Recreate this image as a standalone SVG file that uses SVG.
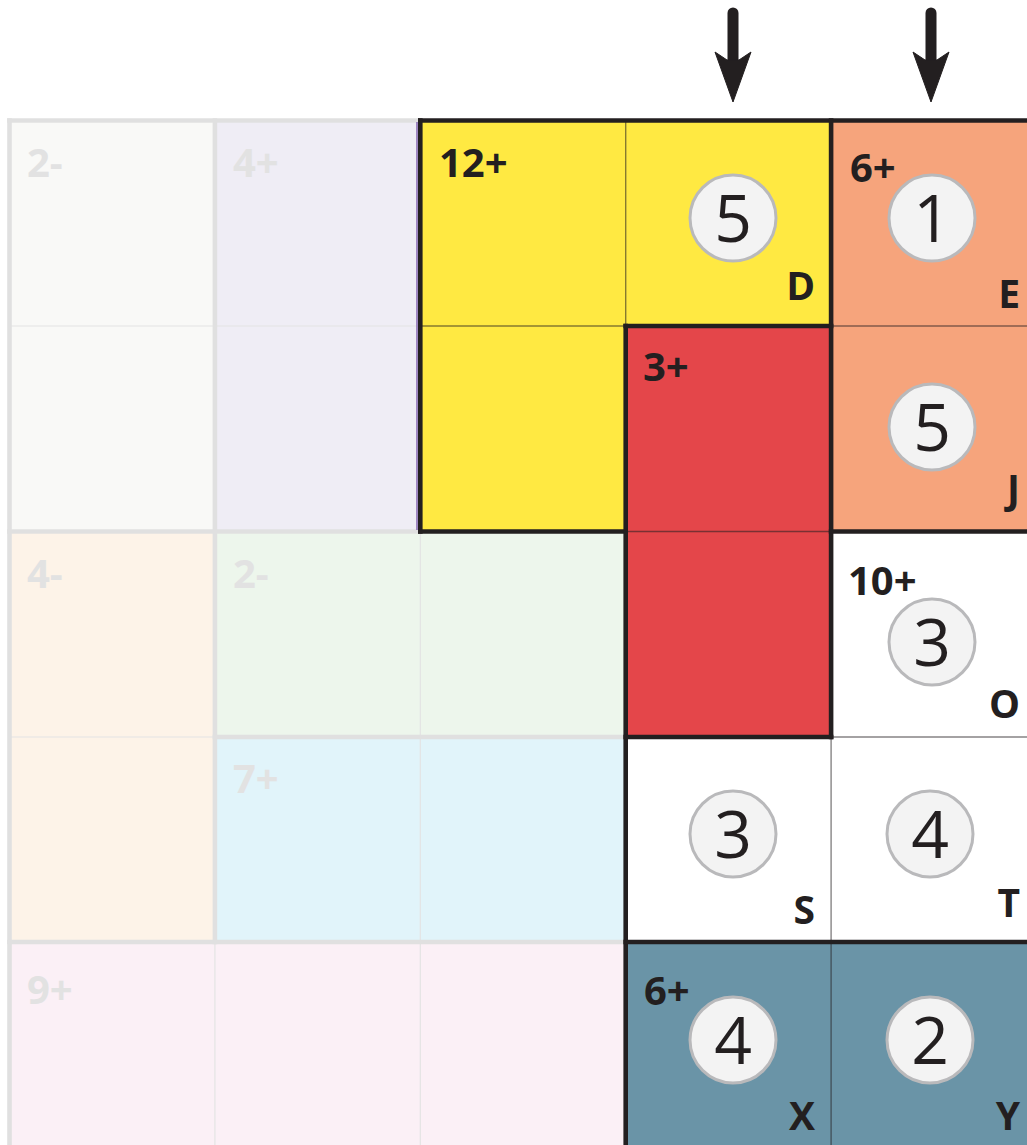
<svg xmlns="http://www.w3.org/2000/svg" width="1027" height="1145" viewBox="0 0 1027 1145">
  <style>
    .lbl { font-family: "Open Sans", "Noto Sans", "DejaVu Sans", sans-serif; font-weight: 700; font-size: 40px; fill: #231f20; }
    .glbl { font-family: "Open Sans", "Noto Sans", "DejaVu Sans", sans-serif; font-weight: 700; font-size: 40px; fill: #e2e2e2; }
    .let { font-family: "Open Sans", "Noto Sans", "DejaVu Sans", sans-serif; font-weight: 700; font-size: 39px; fill: #231f20; text-anchor: end; }
    .num { font-family: "Open Sans", "Noto Sans", "DejaVu Sans", sans-serif; font-weight: 400; font-size: 66px; fill: #231f20; text-anchor: middle; }
    .disc { fill: #f3f3f3; stroke: #b9b9bb; stroke-width: 3; }
    .thick { stroke: #231f20; stroke-width: 4.6; fill: none; stroke-linecap: square; }
    .gthick { stroke: #e0e0e0; stroke-width: 4.6; fill: none; stroke-linecap: square; }
    .thin { stroke: #231f20; stroke-opacity: 0.55; stroke-width: 1.4; fill: none; }
    .gthin { stroke: #e4e4e4; stroke-width: 1.2; fill: none; }
    .arrow { fill: #231f20; stroke: #231f20; }
  </style>
  <rect x="0" y="0" width="1027" height="1145" fill="#ffffff"/>

  <!-- grayed cages -->
  <g id="cage-2minus-a">
    <rect x="9.5" y="120.5" width="205.4" height="411" fill="#f9f9f7"/>
    <line class="gthin" x1="9.5" y1="326" x2="214.9" y2="326"/>
    <text class="glbl" x="27" y="177">2-</text>
  </g>
  <g id="cage-4plus">
    <rect x="214.9" y="120.5" width="205.4" height="411" fill="#efedf5"/>
    <line class="gthin" x1="214.9" y1="326" x2="420.3" y2="326"/>
    <text class="glbl" x="233" y="177">4+</text>
  </g>
  <g id="cage-4minus">
    <rect x="9.5" y="531.5" width="205.4" height="410.5" fill="#fdf3e8"/>
    <line class="gthin" x1="9.5" y1="737" x2="214.9" y2="737"/>
    <text class="glbl" x="27" y="588">4-</text>
  </g>
  <g id="cage-2minus-b">
    <rect x="214.9" y="531.5" width="410.8" height="205.5" fill="#edf6ec"/>
    <line class="gthin" x1="420.3" y1="531.5" x2="420.3" y2="737"/>
    <text class="glbl" x="233" y="588">2-</text>
  </g>
  <g id="cage-7plus">
    <rect x="214.9" y="737" width="410.8" height="205" fill="#e1f4fa"/>
    <line class="gthin" x1="420.3" y1="737" x2="420.3" y2="942"/>
    <text class="glbl" x="233" y="793">7+</text>
  </g>
  <g id="cage-9plus">
    <rect x="9.5" y="942" width="616.2" height="205.5" fill="#fbf0f6"/>
    <line class="gthin" x1="214.9" y1="942" x2="214.9" y2="1147"/>
    <line class="gthin" x1="420.3" y1="942" x2="420.3" y2="1147"/>
    <text class="glbl" x="27" y="1004">9+</text>
  </g>

  <!-- gray cage borders -->
  <g id="gray-borders">
    <line class="gthick" x1="9.5" y1="120.5" x2="418" y2="120.5"/>
    <line class="gthick" x1="9.5" y1="120.5" x2="9.5" y2="1147"/>
    <line class="gthick" x1="214.9" y1="120.5" x2="214.9" y2="942"/>
    <line class="gthick" x1="9.5" y1="531.5" x2="418" y2="531.5"/>
    <line class="gthick" x1="214.9" y1="737" x2="623" y2="737"/>
    <line class="gthick" x1="9.5" y1="942" x2="623" y2="942"/>
    <line x1="417" y1="122" x2="417" y2="530" stroke="#8a6cb4" stroke-width="1.6"/>
  </g>

  <!-- active cages -->
  <g id="cage-12plus">
    <polygon points="420.3,120.5 831.1,120.5 831.1,326 625.7,326 625.7,531.5 420.3,531.5" fill="#ffe942"/>
    <line class="thin" x1="625.7" y1="120.5" x2="625.7" y2="326"/>
    <line class="thin" x1="420.3" y1="326" x2="625.7" y2="326"/>
    <text class="lbl" x="439" y="177">12+</text>
  </g>
  <g id="cage-6plus-top">
    <rect x="831.1" y="120.5" width="200" height="411" fill="#f6a47c"/>
    <line class="thin" x1="831.1" y1="326" x2="1027" y2="326"/>
    <text class="lbl" x="850" y="182">6+</text>
  </g>
  <g id="cage-3plus">
    <rect x="625.7" y="326" width="205.4" height="411" fill="#e4464a"/>
    <line class="thin" x1="625.7" y1="531.5" x2="831.1" y2="531.5"/>
    <text class="lbl" x="643" y="381">3+</text>
  </g>
  <g id="cage-10plus">
    <rect x="831.1" y="531.5" width="200" height="410.5" fill="#ffffff"/>
    <rect x="625.7" y="737" width="205.4" height="205" fill="#ffffff"/>
    <line class="thin" x1="831.1" y1="737" x2="1027" y2="737"/>
    <line class="thin" x1="831.1" y1="737" x2="831.1" y2="942"/>
    <text class="lbl" x="848" y="595">10+</text>
  </g>
  <g id="cage-6plus-bottom">
    <rect x="625.7" y="942" width="405" height="205.5" fill="#6a94a7"/>
    <line class="thin" x1="831.1" y1="942" x2="831.1" y2="1147"/>
    <text class="lbl" x="644" y="1005">6+</text>
  </g>

  <!-- dark cage borders -->
  <g id="dark-borders">
    <line class="thick" x1="420.3" y1="120.5" x2="1030" y2="120.5"/>
    <line class="thick" x1="420.3" y1="120.5" x2="420.3" y2="531.5"/>
    <line class="thick" x1="420.3" y1="531.5" x2="625.7" y2="531.5"/>
    <line class="thick" x1="625.7" y1="326" x2="831.1" y2="326"/>
    <line class="thick" x1="831.1" y1="120.5" x2="831.1" y2="737"/>
    <line class="thick" x1="625.7" y1="326" x2="625.7" y2="1147"/>
    <line class="thick" x1="625.7" y1="737" x2="831.1" y2="737"/>
    <line class="thick" x1="831.1" y1="531.5" x2="1030" y2="531.5"/>
    <line class="thick" x1="625.7" y1="942" x2="1030" y2="942"/>
  </g>

  <!-- cells with values -->
  <g id="cell-D">
    <circle class="disc" cx="733" cy="218" r="43"/>
    <text class="num" x="733" y="242">5</text>
    <text class="let" x="815" y="300">D</text>
  </g>
  <g id="cell-E">
    <circle class="disc" cx="932" cy="218" r="43"/>
    <text class="num" x="932" y="242">1</text>
    <text class="let" x="1020" y="308">E</text>
  </g>
  <g id="cell-J">
    <circle class="disc" cx="932" cy="427" r="43"/>
    <text class="num" x="932" y="451">5</text>
    <text class="let" x="1020" y="503">J</text>
  </g>
  <g id="cell-O">
    <circle class="disc" cx="932" cy="642" r="43"/>
    <text class="num" x="932" y="666">3</text>
    <text class="let" x="1020" y="718">O</text>
  </g>
  <g id="cell-S">
    <circle class="disc" cx="733" cy="834" r="43"/>
    <text class="num" x="733" y="858">3</text>
    <text class="let" x="815" y="924">S</text>
  </g>
  <g id="cell-T">
    <circle class="disc" cx="930" cy="834" r="43"/>
    <text class="num" x="930" y="858">4</text>
    <text class="let" x="1020" y="917">T</text>
  </g>
  <g id="cell-X">
    <circle class="disc" cx="733" cy="1040" r="43"/>
    <text class="num" x="733" y="1064">4</text>
    <text class="let" x="815" y="1130">X</text>
  </g>
  <g id="cell-Y">
    <circle class="disc" cx="930" cy="1040" r="43"/>
    <text class="num" x="930" y="1064">2</text>
    <text class="let" x="1020" y="1130">Y</text>
  </g>

  <!-- connectors (arrows) -->
  <g id="connectors">
    <line x1="733" y1="13" x2="733" y2="62" stroke="#231f20" stroke-width="11" stroke-linecap="round"/>
    <polygon class="arrow" points="727,60 715,52 733,102 751,52 739,60"/>
    <line x1="931" y1="13" x2="931" y2="62" stroke="#231f20" stroke-width="11" stroke-linecap="round"/>
    <polygon class="arrow" points="925,60 913,52 931,102 949,52 937,60"/>
  </g>
</svg>
